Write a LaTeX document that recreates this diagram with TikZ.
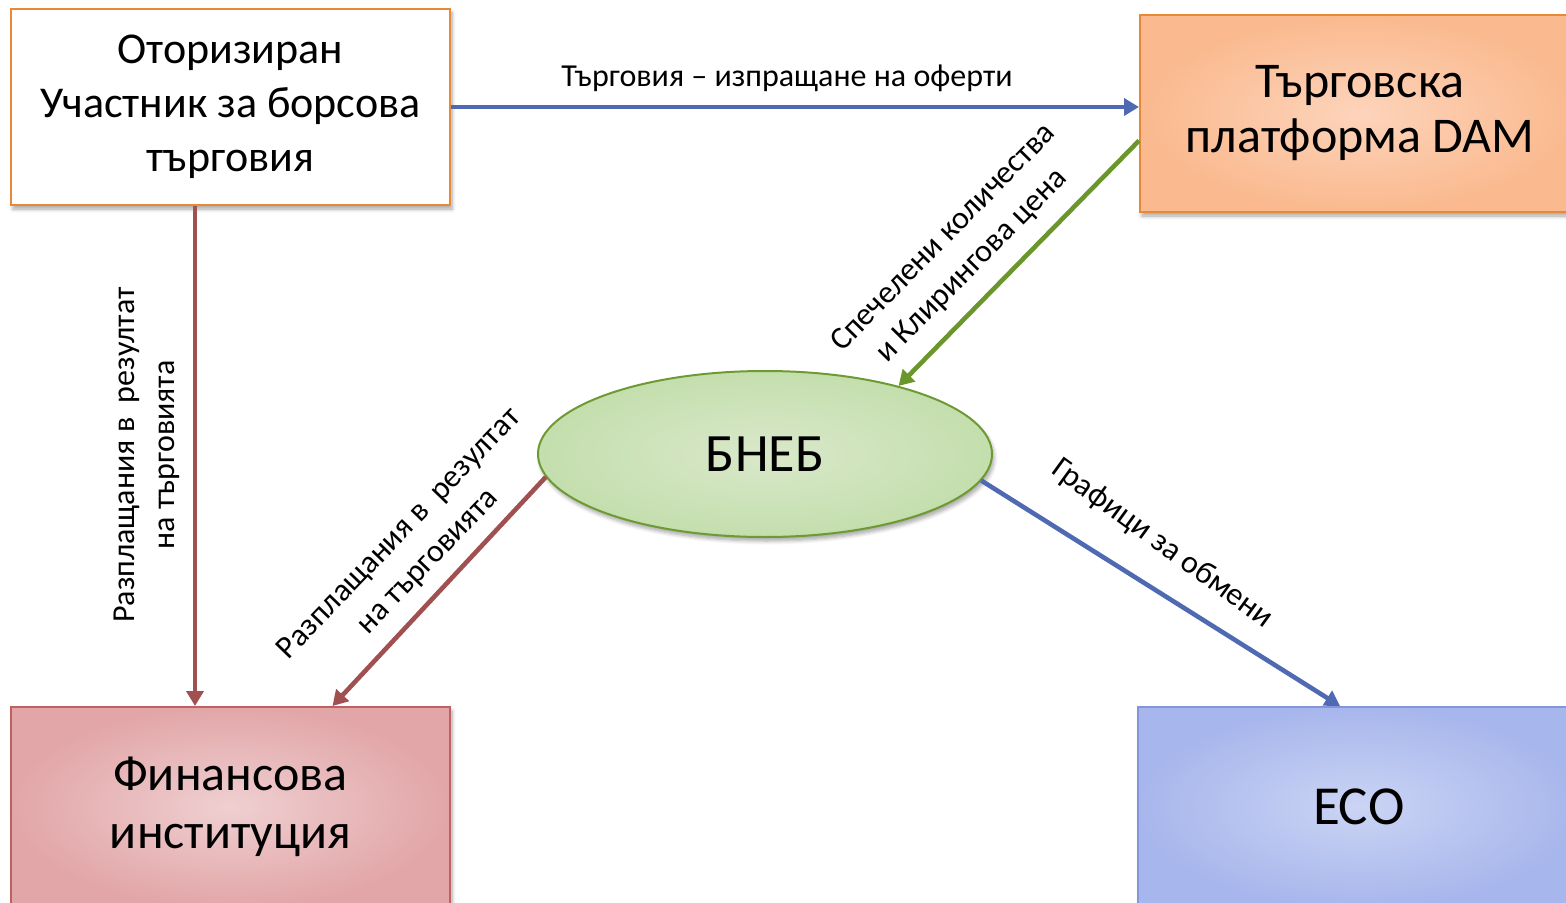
\documentclass[tikz,border=0pt]{standalone}
\usepackage{fontspec}
\setmainfont{Carlito}
\usetikzlibrary{arrows.meta,shapes.geometric,shadows.blur}

\definecolor{boxorange}{RGB}{233,137,52}
\definecolor{damout}{RGB}{250,185,142}
\definecolor{damin}{RGB}{253,212,187}
\definecolor{bnebline}{RGB}{109,154,50}
\definecolor{bnebout}{RGB}{196,222,173}
\definecolor{bnebin}{RGB}{217,232,202}
\definecolor{finline}{RGB}{192,96,96}
\definecolor{finout}{RGB}{226,166,168}
\definecolor{finin}{RGB}{239,207,209}
\definecolor{ecoline}{RGB}{130,150,218}
\definecolor{ecoout}{RGB}{167,182,236}
\definecolor{ecoin}{RGB}{203,212,244}
\definecolor{arrblue}{RGB}{79,106,178}
\definecolor{arrgreen}{RGB}{107,150,44}
\definecolor{arrred}{RGB}{160,80,80}

\tikzset{
  box/.style={rectangle, line width=1pt, align=center, font=\fontsize{22}{27}\selectfont,
    minimum width=219.5pt, minimum height=98pt, inner sep=0pt,
    blur shadow={shadow xshift=1pt, shadow yshift=-2pt, shadow blur steps=6, shadow opacity=35}},
  flow/.style={line width=2.3pt, -{Triangle[length=7.5pt,width=8.5pt]}},
  lbl/.style={align=center, font=\fontsize{16}{20}\selectfont, inner sep=0pt}
}

\begin{document}
\begin{tikzpicture}[x=0.5pt,y=0.5pt]
\useasboundingbox (0,0) rectangle (1566,-903);

% boxes
\node[box, draw=boxorange, fill=white] (otp) at (230.5,-107) {Оторизиран\\Участник за борсова\\търговия};
\node[box, draw=boxorange, inner color=damin, outer color=damout, minimum width=220pt, minimum height=98.5pt,
  font=\fontsize{25}{27.5}\selectfont] (dam) at (1360,-113.5) {Търговска\\платформа DAM};
\node[ellipse, draw=bnebline, line width=1pt, inner color=bnebin, outer color=bnebout,
  minimum width=227pt, minimum height=83pt, font=\fontsize{27}{30}\selectfont,
  blur shadow={shadow xshift=1pt, shadow yshift=-2pt, shadow blur steps=6, shadow opacity=35}] (bneb) at (765,-454) {БНЕБ};
\node[box, draw=finline, inner color=finin, outer color=finout, minimum height=100pt,
  font=\fontsize{25}{29}\selectfont] (fin) at (230.5,-807) {Финансова\\институция};
\node[box, draw=ecoline, inner color=ecoin, outer color=ecoout, minimum width=221pt, minimum height=100pt,
  font=\fontsize{27.5}{30}\selectfont] (eco) at (1359,-807) {ЕСО};

% connectors
\draw[flow, arrblue] (otp.east) -- (otp.east -| dam.west);
\draw[flow, arrgreen] (dam.187) -- (bneb.27);
\draw[flow, arrred] ([xshift=-17.75pt]otp.south) -- ([xshift=-17.75pt]otp.south |- fin.north);
\draw[flow, arrred] (bneb.186) -- ([xshift=51pt]fin.north);
\draw[flow, arrblue] (bneb.353) -- ([xshift=-9.5pt]eco.north);

% labels
\node[lbl] (l1) at (787,-78) {Търговия – изпращане на оферти};
\node[lbl, rotate=45.5] (l2) at (958,-252) {Спечелени количества\\и Клирингова цена};
\node[lbl, rotate=90] (l3) at (147,-455) {Разплащания в~ резултат\\на търговията};
\node[lbl, rotate=46] (l4) at (414,-548) {Разплащания в~ резултат\\на търговията};
\node[lbl, rotate=-36] (l5) at (1162,-544) {Графици за обмени};
\end{tikzpicture}
\end{document}
